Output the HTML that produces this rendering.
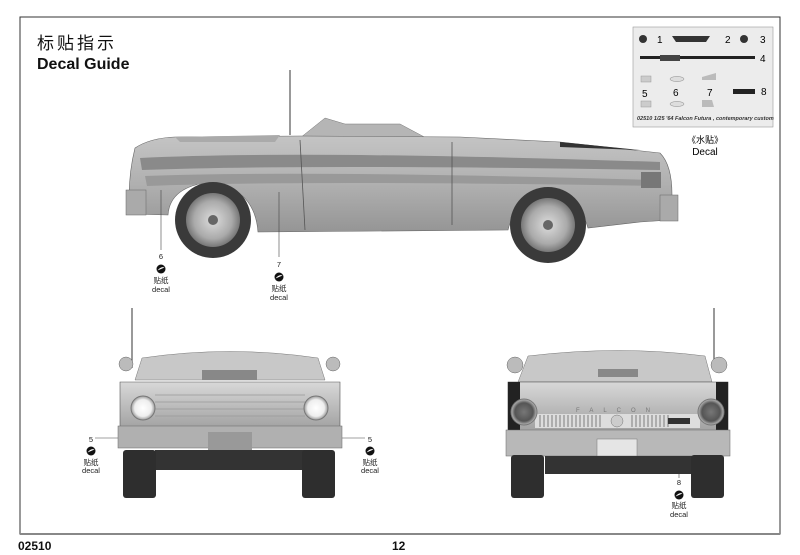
<!DOCTYPE html>
<html><head><meta charset="utf-8"><style>
html,body{margin:0;padding:0;background:#fff;}
svg{display:block;font-family:"Liberation Sans","Noto Sans CJK SC",sans-serif;}
</style></head><body>
<svg width="800" height="555" viewBox="0 0 800 555">
<defs>
<linearGradient id="body" x1="0" y1="0" x2="0" y2="1"><stop offset="0" stop-color="#c4c4c4"/><stop offset="0.5" stop-color="#b0b0b0"/><stop offset="1" stop-color="#959595"/></linearGradient>
<linearGradient id="fb" x1="0" y1="0" x2="0" y2="1"><stop offset="0" stop-color="#d8d8d8"/><stop offset="1" stop-color="#a0a0a0"/></linearGradient>
<radialGradient id="rim"><stop offset="0" stop-color="#ddd"/><stop offset="0.7" stop-color="#aaa"/><stop offset="1" stop-color="#777"/></radialGradient>
<radialGradient id="lamp"><stop offset="0" stop-color="#fff"/><stop offset="0.7" stop-color="#eee"/><stop offset="1" stop-color="#999"/></radialGradient>
<radialGradient id="tl"><stop offset="0" stop-color="#777"/><stop offset="0.7" stop-color="#555"/><stop offset="1" stop-color="#bbb"/></radialGradient>
<g id="ic"><circle r="4.5" fill="#111"/><path d="M-3.5 1.5 Q0 -3 3.5 -1.5 Q0 0 -3.5 1.5Z" fill="#fff"/></g>
</defs>
<rect x="20" y="17" width="760" height="517" fill="none" stroke="#333" stroke-width="1"/>
<line x1="20" y1="534" x2="780" y2="534" stroke="#888" stroke-width="2"/>
<text x="37" y="49" font-size="17" fill="#111" font-family="'Noto Sans CJK SC',sans-serif" letter-spacing="3">标贴指示</text>
<text x="37" y="69" font-size="16" font-weight="bold" fill="#111">Decal Guide</text>
<text x="18" y="550" font-size="12" font-weight="bold" fill="#111">02510</text>
<text x="392" y="550" font-size="12" font-weight="bold" fill="#111">12</text>

<rect x="633" y="27" width="140" height="100" fill="#ececec" stroke="#999" stroke-width="0.6"/>
<circle cx="643" cy="39" r="4" fill="#333"/><text x="657" y="43" font-size="10">1</text>
<path d="M672 36 L710 36 L706 42 L676 42Z" fill="#333"/><text x="725" y="43" font-size="10">2</text>
<circle cx="744" cy="39" r="4" fill="#333"/><text x="760" y="43" font-size="10">3</text>
<rect x="640" y="56" width="115" height="3" fill="#222"/><rect x="660" y="55" width="20" height="6" fill="#444"/><text x="760" y="62" font-size="10">4</text>
<rect x="641" y="76" width="10" height="6" fill="#ccc" stroke="#999" stroke-width="0.5"/>
<ellipse cx="677" cy="79" rx="7" ry="2.5" fill="#ddd" stroke="#888" stroke-width="0.5"/>
<path d="M702 77 L716 73 L716 80 L702 80Z" fill="#bbb"/>
<text x="642" y="97" font-size="10">5</text><text x="673" y="96" font-size="10">6</text><text x="707" y="96" font-size="10">7</text>
<rect x="733" y="89" width="22" height="5" fill="#222"/><text x="761" y="95" font-size="10">8</text>
<rect x="641" y="101" width="10" height="6" fill="#ccc" stroke="#999" stroke-width="0.5"/>
<ellipse cx="677" cy="104" rx="7" ry="2.5" fill="#ddd" stroke="#888" stroke-width="0.5"/>
<path d="M702 100 L712 100 L714 107 L702 107Z" fill="#bbb"/>
<text x="637" y="120" font-size="5.5" font-style="italic" font-weight="bold" fill="#333">02510  1/25  '64 Falcon Futura , contemporary custom</text>
<text x="705" y="143" font-size="9" text-anchor="middle" font-family="'Noto Sans CJK SC',sans-serif">《水贴》</text>
<text x="705" y="155" font-size="10" text-anchor="middle">Decal</text>

<line x1="290" y1="70" x2="290" y2="135" stroke="#555" stroke-width="1.2"/>
<path d="M300 138 L325 118 L345 124 L400 124 L430 140 Z" fill="#b5b5b5" stroke="#777" stroke-width="0.5"/>
<path d="M135 148 Q150 138 175 137 L300 136 L460 137 L560 142 L660 153 Q672 165 672 195 L670 220 L640 222 L588 228 Q580 200 548 198 Q515 200 508 230 L258 232 Q255 190 212 182 Q170 186 168 215 L130 214 Q127 180 135 148 Z" fill="url(#body)" stroke="#666" stroke-width="0.6"/>
<path d="M140 158 Q300 150 660 162 L660 170 Q300 164 142 170 Z" fill="#8a8a8a"/>
<path d="M145 176 Q300 170 655 180 L655 186 Q300 180 147 186 Z" fill="#999"/>
<path d="M175 137 L280 135 L275 142 L180 142 Z" fill="#aaa"/>
<path d="M560 142 L640 150 L560 147Z" fill="#333"/>
<line x1="300" y1="140" x2="305" y2="230" stroke="#555" stroke-width="0.8"/>
<line x1="452" y1="142" x2="452" y2="225" stroke="#555" stroke-width="0.8"/>
<rect x="126" y="190" width="20" height="25" fill="#aaa" stroke="#666" stroke-width="0.5"/>
<rect x="660" y="195" width="18" height="26" fill="#aaa" stroke="#666" stroke-width="0.5"/>
<rect x="641" y="172" width="20" height="16" fill="#777"/>
<circle cx="213" cy="220" r="38" fill="#3a3a3a"/><circle cx="213" cy="220" r="27" fill="url(#rim)"/><circle cx="213" cy="220" r="5" fill="#666"/>
<circle cx="548" cy="225" r="38" fill="#3a3a3a"/><circle cx="548" cy="225" r="27" fill="url(#rim)"/><circle cx="548" cy="225" r="5" fill="#666"/>
<line x1="161" y1="190" x2="161" y2="250" stroke="#444" stroke-width="0.6"/>
<line x1="279" y1="192" x2="279" y2="257" stroke="#444" stroke-width="0.6"/>
<g font-size="7.5" text-anchor="middle" fill="#222">
<text x="161" y="259">6</text><use href="#ic" x="161" y="269"/><text x="161" y="283" font-family="'Noto Sans CJK SC',sans-serif">贴纸</text><text x="161" y="292">decal</text>
<text x="279" y="267">7</text><use href="#ic" x="279" y="277"/><text x="279" y="291" font-family="'Noto Sans CJK SC',sans-serif">贴纸</text><text x="279" y="300">decal</text>
<text x="91" y="442">5</text><use href="#ic" x="91" y="451"/><text x="91" y="465" font-family="'Noto Sans CJK SC',sans-serif">贴纸</text><text x="91" y="473">decal</text>
<text x="370" y="442">5</text><use href="#ic" x="370" y="451"/><text x="370" y="465" font-family="'Noto Sans CJK SC',sans-serif">贴纸</text><text x="370" y="473">decal</text>
<text x="679" y="485">8</text><use href="#ic" x="679" y="495"/><text x="679" y="508" font-family="'Noto Sans CJK SC',sans-serif">贴纸</text><text x="679" y="517">decal</text>
</g>
<line x1="95" y1="438" x2="135" y2="438" stroke="#444" stroke-width="0.6"/>
<line x1="318" y1="438" x2="365" y2="438" stroke="#444" stroke-width="0.6"/>
<line x1="679" y1="428" x2="679" y2="478" stroke="#444" stroke-width="0.6"/>

<line x1="132" y1="308" x2="132" y2="368" stroke="#555" stroke-width="1.2"/>
<path d="M142 358 Q230 345 318 358 L325 380 L135 380 Z" fill="#c8c8c8" stroke="#777" stroke-width="0.5"/>
<circle cx="126" cy="364" r="7" fill="#bbb" stroke="#666" stroke-width="0.5"/><circle cx="333" cy="364" r="7" fill="#bbb" stroke="#666" stroke-width="0.5"/>
<rect x="202" y="370" width="55" height="10" fill="#888"/>
<path d="M120 382 L340 382 L340 430 L120 430 Z" fill="url(#fb)" stroke="#555" stroke-width="0.6"/>
<g stroke="#999" stroke-width="0.8"><line x1="155" y1="395" x2="305" y2="395"/><line x1="155" y1="402" x2="305" y2="402"/><line x1="155" y1="409" x2="305" y2="409"/><line x1="155" y1="416" x2="305" y2="416"/></g>
<circle cx="143" cy="408" r="12" fill="url(#lamp)" stroke="#777"/><circle cx="316" cy="408" r="12" fill="url(#lamp)" stroke="#777"/>
<rect x="118" y="426" width="224" height="22" fill="#b0b0b0" stroke="#666" stroke-width="0.5"/>
<rect x="208" y="432" width="44" height="18" fill="#999"/>
<rect x="155" y="450" width="150" height="20" fill="#333"/>
<rect x="123" y="450" width="33" height="48" rx="3" fill="#2e2e2e"/><rect x="302" y="450" width="33" height="48" rx="3" fill="#2e2e2e"/>

<line x1="714" y1="308" x2="714" y2="362" stroke="#555" stroke-width="1.2"/>
<path d="M528 356 Q620 345 705 356 L712 382 L518 382 Z" fill="#c8c8c8" stroke="#777" stroke-width="0.5"/>
<circle cx="515" cy="365" r="8" fill="#bbb" stroke="#666" stroke-width="0.5"/><circle cx="719" cy="365" r="8" fill="#bbb" stroke="#666" stroke-width="0.5"/>
<rect x="598" y="369" width="40" height="8" fill="#888"/>
<path d="M508 382 L728 382 L728 432 L508 432 Z" fill="url(#fb)" stroke="#444" stroke-width="0.6"/>
<rect x="508" y="382" width="12" height="50" fill="#222"/><rect x="716" y="382" width="12" height="50" fill="#222"/>
<text x="618" y="412" font-size="6" fill="#777" text-anchor="middle" letter-spacing="10">FALCON</text>
<rect x="535" y="414" width="165" height="14" fill="#ddd"/>
<g stroke="#555" stroke-width="0.7"><path d="M540 415 V427 M544 415 V427 M548 415 V427 M552 415 V427 M556 415 V427 M560 415 V427 M564 415 V427 M568 415 V427 M572 415 V427 M576 415 V427 M580 415 V427 M584 415 V427 M588 415 V427 M592 415 V427 M596 415 V427 M600 415 V427 M632 415 V427 M636 415 V427 M640 415 V427 M644 415 V427 M648 415 V427 M652 415 V427 M656 415 V427 M660 415 V427 M664 415 V427 M668 415 V427"/></g>
<circle cx="617" cy="421" r="6" fill="#ccc" stroke="#777" stroke-width="0.5"/>
<rect x="668" y="418" width="22" height="6" fill="#333"/>
<circle cx="524" cy="412" r="13" fill="url(#tl)" stroke="#777"/><circle cx="711" cy="412" r="13" fill="url(#tl)" stroke="#777"/>
<rect x="506" y="430" width="224" height="26" fill="#b8b8b8" stroke="#666" stroke-width="0.5"/>
<rect x="597" y="439" width="40" height="17" fill="#e5e5e5" stroke="#777" stroke-width="0.5"/>
<rect x="545" y="456" width="150" height="18" fill="#333"/>
<rect x="511" y="455" width="33" height="43" rx="3" fill="#2e2e2e"/><rect x="691" y="455" width="33" height="43" rx="3" fill="#2e2e2e"/>
</svg>
</body></html>
